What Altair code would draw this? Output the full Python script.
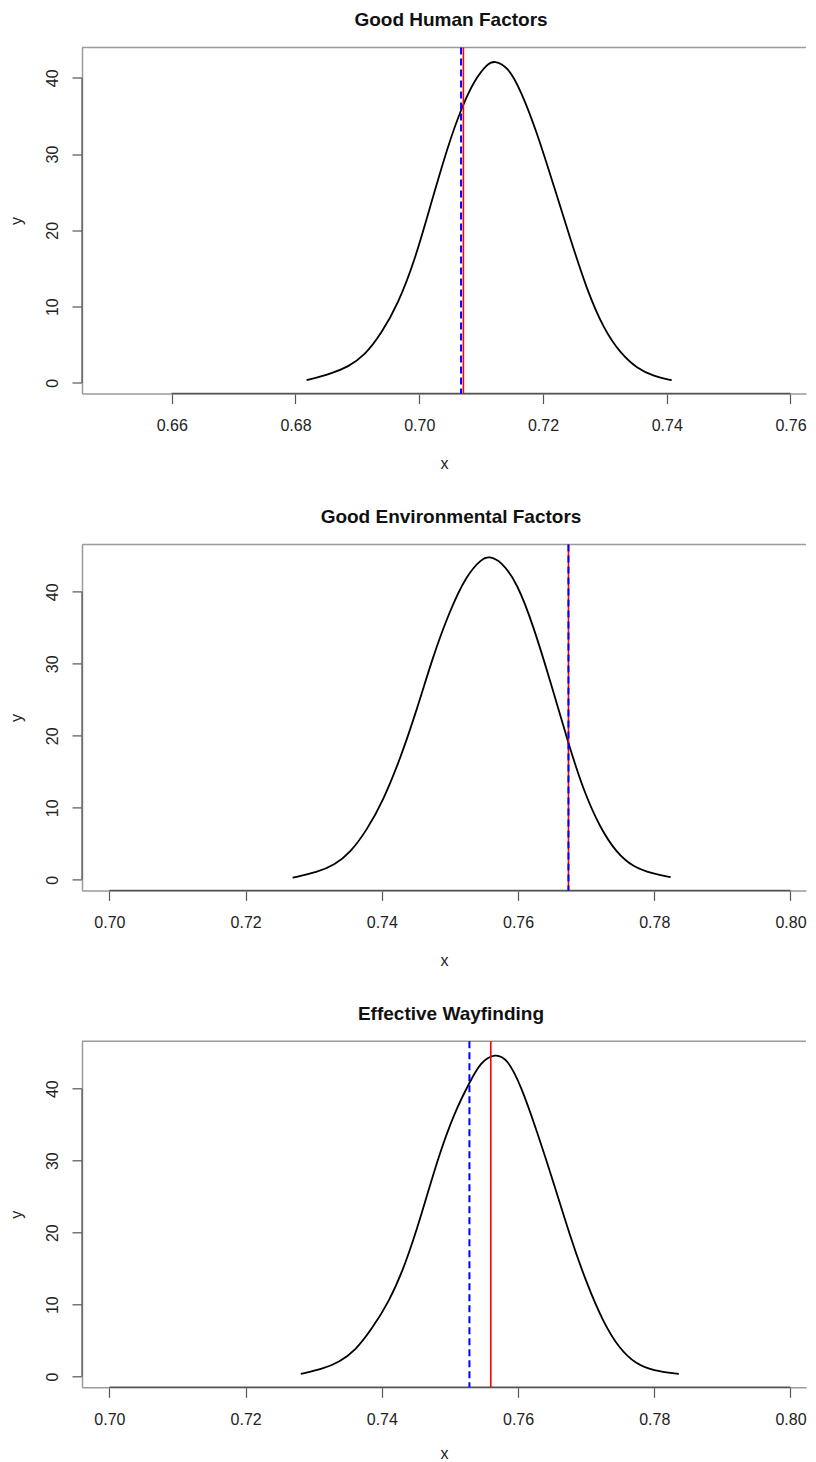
import altair as alt
import pandas as pd

# ---- data ----
titles = ["Good Human Factors", "Good Environmental Factors", "Effective Wayfinding"]

hf_x = [0.6818, 0.6858, 0.6885, 0.6912, 0.6939, 0.6966, 0.6993, 0.7019, 0.7046, 0.7068,
        0.7089, 0.7111, 0.7121, 0.7143, 0.7164, 0.7191, 0.7218, 0.7245, 0.7271, 0.7298,
        0.7325, 0.7352, 0.7379, 0.7408]
hf_y = [0.35, 1.23, 2.1, 3.6, 6.5, 10.4, 16.1, 23.5, 31.0, 36.0,
        39.7, 41.9, 42.25, 41.5, 38.4, 32.7, 25.7, 18.7, 12.2, 7.1,
        3.9, 1.9, 0.88, 0.35]

ef_x = [0.7269, 0.73055, 0.7330, 0.7354, 0.7378, 0.7402, 0.7427, 0.7451, 0.7475, 0.7499,
        0.7524, 0.7548, 0.7557, 0.7575, 0.7599, 0.7623, 0.7647, 0.7674, 0.7696, 0.7720,
        0.7744, 0.7769, 0.7798, 0.7824]
ef_y = [0.28, 1.06, 2.0, 3.8, 6.9, 11.0, 16.8, 23.5, 31.0, 37.2,
        42.3, 44.7, 44.9, 44.3, 41.2, 35.1, 27.7, 18.9, 12.4, 7.3,
        3.8, 1.75, 0.83, 0.36]

ew_x = [0.7281, 0.7313, 0.7337, 0.7361, 0.7385, 0.7410, 0.7434, 0.7458, 0.7482, 0.7507,
        0.7529, 0.7545, 0.7566, 0.7584, 0.7604, 0.7628, 0.7652, 0.7676, 0.7700, 0.7725,
        0.7749, 0.7773, 0.7798, 0.7836]
ew_y = [0.37, 1.07, 2.0, 3.6, 6.6, 10.3, 15.4, 22.4, 30.3, 36.8,
        40.9, 43.7, 44.9, 44.2, 40.5, 34.0, 27.0, 19.6, 13.1, 7.55,
        3.85, 1.77, 0.83, 0.37]

red_x = [0.70714, 0.7674, 0.7560]     # solid red line
blue_x = [0.70676, 0.7674, 0.75286]   # dashed blue line

x_ticks = [[0.66, 0.68, 0.70, 0.72, 0.74, 0.76],
           [0.70, 0.72, 0.74, 0.76, 0.78, 0.80],
           [0.70, 0.72, 0.74, 0.76, 0.78, 0.80]]
y_ticks = [0, 10, 20, 30, 40]
x_domains = [[0.645504, 0.762505], [0.695977, 0.802276], [0.695977, 0.802276]]
y_domains = [[-1.39, 43.98], [-1.48, 46.58], [-1.48, 46.58]]

curves_x = [hf_x, ef_x, ew_x]
curves_y = [hf_y, ef_y, ew_y]

W, H = 724, 346
FONT = "Liberation Sans, Arial, Helvetica, sans-serif"
BOX = "#9a9a9a"
AXC = "#555555"
x_title_y = [62, 62, 58]


def panel(i):
    df = pd.DataFrame({"x": curves_x[i], "y": curves_y[i]})
    xs = alt.Scale(domain=x_domains[i], nice=False, zero=False)
    ys = alt.Scale(domain=y_domains[i], nice=False, zero=False)
    xax = alt.Axis(values=x_ticks[i], format=".2f", title="x", grid=False,
                   domainColor=BOX, domainWidth=1.5, tickColor=AXC, tickWidth=1.2,
                   tickSize=10, labelPadding=14, labelFontSize=16, labelFont=FONT,
                   labelColor="#222", titleFont=FONT, titleFontSize=16,
                   titleFontWeight="normal", titleColor="#222", titleY=x_title_y[i],
                   titleBaseline="top", labelFlush=False, labelOverlap=False)
    yax = alt.Axis(values=y_ticks, title="y", grid=False, labelAngle=270,
                   labelAlign="center", labelBaseline="bottom",
                   domainColor=BOX, domainWidth=1.5, tickColor=AXC, tickWidth=1.2,
                   tickSize=10, labelPadding=12, labelFontSize=16, labelFont=FONT,
                   labelColor="#222", titleFont=FONT, titleFontSize=16,
                   titleFontWeight="normal", titleColor="#222", titleX=-58,
                   titleY=H / 2, labelFlush=False, labelOverlap=False)

    curve = alt.Chart(df).mark_line(color="black", strokeWidth=1.8,
                                    interpolate="basis").encode(
        x=alt.X("x:Q", scale=xs, axis=xax),
        y=alt.Y("y:Q", scale=ys, axis=yax),
    )

    # frame top line
    top = alt.Chart(pd.DataFrame({"k": [0]})).mark_rule(
        color=BOX, strokeWidth=1.5).encode(y=alt.value(0))
    # darker axis lines from first to last tick
    xline = alt.Chart(pd.DataFrame({"a": [x_ticks[i][0]], "b": [x_ticks[i][-1]]})).mark_rule(
        color=AXC, strokeWidth=1.5).encode(
        x=alt.X("a:Q", scale=xs), x2="b:Q", y=alt.value(H))
    yline = alt.Chart(pd.DataFrame({"a": [y_ticks[0]], "b": [y_ticks[-1]]})).mark_rule(
        color=AXC, strokeWidth=1.2).encode(
        y=alt.Y("a:Q", scale=ys), y2="b:Q", x=alt.value(0))

    red = alt.Chart(pd.DataFrame({"v": [red_x[i]]})).mark_rule(
        color="#ff0000", strokeWidth=1.6).encode(x=alt.X("v:Q", scale=xs))
    blue = alt.Chart(pd.DataFrame({"v": [blue_x[i]]})).mark_rule(
        color="#0000ff", strokeWidth=2, strokeDash=[7, 4]).encode(x=alt.X("v:Q", scale=xs))

    title = alt.Chart(pd.DataFrame({"t": [titles[i]]})).mark_text(
        font=FONT, fontSize=19, fontWeight="bold", color="#111",
        align="center", baseline="middle").encode(
        text="t:N", x=alt.value(369), y=alt.value(-27.8))

    return alt.layer(top, xline, yline, curve, red, blue, title).properties(
        width=W, height=H)


chart = alt.vconcat(panel(0), panel(1), panel(2), spacing=35.9).properties(
    padding={"left": 0, "top": 2.5, "right": 0, "bottom": 0}
).configure_view(stroke=None)

chart.save("out.html", embed_options={"renderer": "svg", "actions": False})
